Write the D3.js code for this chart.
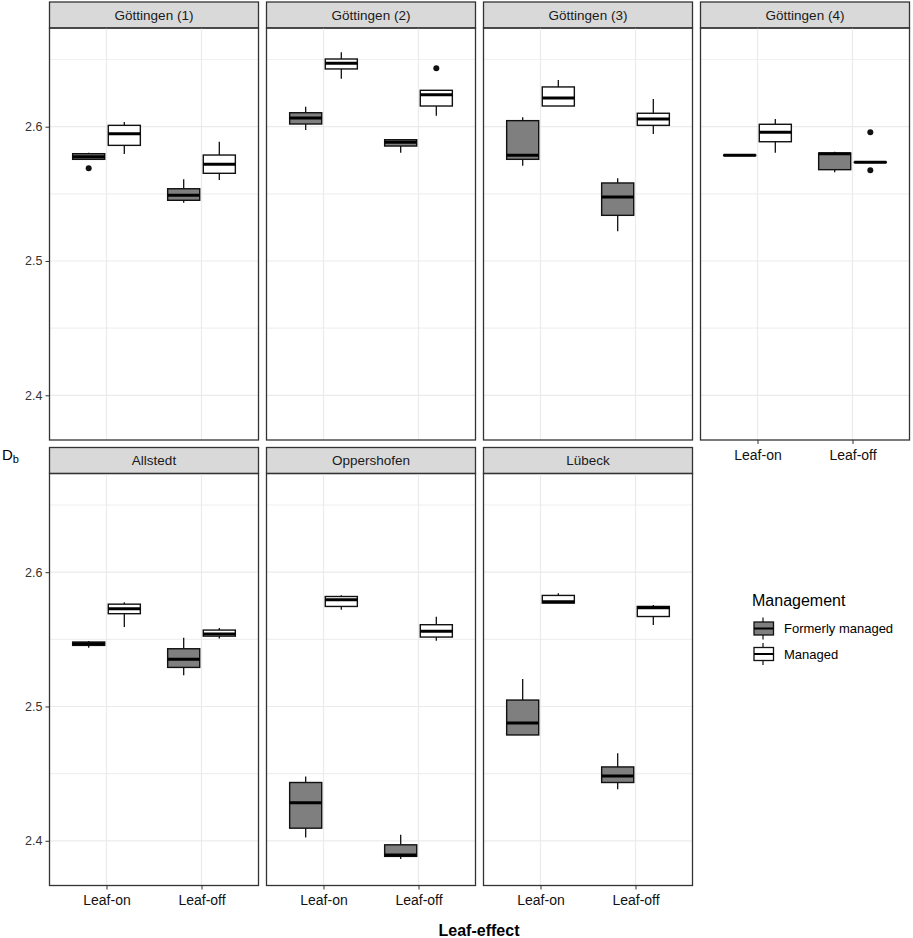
<!DOCTYPE html>
<html>
<head>
<meta charset="utf-8">
<script src="https://cdn.jsdelivr.net/npm/d3@7"></script>
<style>
body { margin: 0; background: #fff; }
text { font-family: Arial, "Liberation Sans", sans-serif; }
</style>
</head>
<body>
<svg width="913" height="938"></svg>
<script>
// facets, categories, groups
var sites = ["Göttingen (1)", "Göttingen (2)", "Göttingen (3)", "Göttingen (4)", "Allstedt", "Oppershofen", "Lübeck"];
var effects = ["Leaf-on", "Leaf-off"];
var groups = ["Formerly managed", "Managed"];

// [lower whisker, q1, median, q3, upper whisker]
// order: on/formerly, on/managed, off/formerly, off/managed
var gottingen1 = [
  [2.5757, 2.5757, 2.5777, 2.5799, 2.5806],
  [2.5797, 2.5861, 2.5948, 2.6010, 2.6035],
  [2.5434, 2.5452, 2.5489, 2.5538, 2.5608],
  [2.5603, 2.5653, 2.5720, 2.5789, 2.5888]
];
var gottingen2 = [
  [2.5975, 2.6020, 2.6065, 2.6104, 2.6149],
  [2.6357, 2.6430, 2.6472, 2.6504, 2.6554],
  [2.5806, 2.5856, 2.5884, 2.5903, 2.5903],
  [2.6082, 2.6154, 2.6238, 2.6271, 2.6271]
];
var gottingen3 = [
  [2.5710, 2.5757, 2.5787, 2.6045, 2.6070],
  [2.6154, 2.6154, 2.6214, 2.6296, 2.6348],
  [2.5222, 2.5340, 2.5477, 2.5581, 2.5616],
  [2.5946, 2.6010, 2.6057, 2.6100, 2.6206]
];
var gottingen4 = [
  [2.5783, 2.5785, 2.5787, 2.5789, 2.5791],
  [2.5806, 2.5888, 2.5958, 2.6018, 2.6057],
  [2.5660, 2.5680, 2.5799, 2.5804, 2.5814],
  [2.5734, 2.5734, 2.5735, 2.5736, 2.5736]
];
var allstedt = [
  [2.5438, 2.5455, 2.5468, 2.5480, 2.5487],
  [2.5591, 2.5691, 2.5728, 2.5762, 2.5777],
  [2.5232, 2.5291, 2.5351, 2.5430, 2.5512],
  [2.5507, 2.5524, 2.5539, 2.5569, 2.5584]
];
var oppershofen = [
  [2.4025, 2.4094, 2.4283, 2.4434, 2.4479],
  [2.5720, 2.5745, 2.5795, 2.5819, 2.5829],
  [2.3864, 2.3884, 2.3894, 2.3970, 2.4045],
  [2.5490, 2.5517, 2.5561, 2.5609, 2.5668]
];
var lubeck = [
  [2.4788, 2.4788, 2.4877, 2.5048, 2.5204],
  [2.5770, 2.5770, 2.5780, 2.5827, 2.5844],
  [2.4384, 2.4434, 2.4483, 2.4550, 2.4652],
  [2.5606, 2.5670, 2.5735, 2.5745, 2.5755]
];

// outliers: [site index, effect index, group index, value]
var outliers = [
  [0, 0, 0, 2.569],
  [1, 1, 1, 2.6435],
  [3, 1, 1, 2.5958],
  [3, 1, 1, 2.5675]
];

var yTicks = [2.4, 2.5, 2.6];
var yMinor = [2.45, 2.55, 2.65];

var siteStats = [gottingen1, gottingen2, gottingen3, gottingen4, allstedt, oppershofen, lubeck];
var fills = ["#7f7f7f", "#ffffff"];

var svg = d3.select("svg");

var panelW = 209, plotH = 412, stripH = 26;
var colX = function(c) { return 49.5 + c * 217; };
var rowTop = [2, 447.5];

var y = d3.scaleLinear().domain([2.36671, 2.67349]).range([plotH, 0]);
var x = d3.scalePoint().domain(effects).range([0, panelW]).padding(0.6);
var step = x.step();
var boxW = 0.3375 * step;
var dodge = [-0.1875 * step, 0.1875 * step];

var boxes = [];
siteStats.forEach(function(st, s) {
  st.forEach(function(v, k) {
    boxes.push({site: s, effect: effects[Math.floor(k / 2)], group: k % 2,
      lo: v[0], q1: v[1], med: v[2], q3: v[3], hi: v[4]});
  });
});

sites.forEach(function(name, i) {
  var row = Math.floor(i / 4), col = i % 4;
  var px = colX(col), py = rowTop[row] + stripH;

  // strip
  svg.append("rect")
    .attr("x", px).attr("y", rowTop[row])
    .attr("width", panelW).attr("height", stripH)
    .attr("fill", "#d9d9d9").attr("stroke", "#333").attr("stroke-width", 1.3);
  svg.append("text")
    .attr("x", px + panelW / 2).attr("y", rowTop[row] + stripH / 2 + 4.5)
    .attr("text-anchor", "middle").attr("font-size", 13.5).attr("fill", "#1a1a1a")
    .text(name);

  var g = svg.append("g").attr("transform", "translate(" + px + "," + py + ")");

  g.selectAll(".minor").data(yMinor).enter().append("line")
    .attr("x1", 0).attr("x2", panelW)
    .attr("y1", function(d) { return y(d); }).attr("y2", function(d) { return y(d); })
    .attr("stroke", "#f0f0f0").attr("stroke-width", 1.1);
  g.selectAll(".major").data(yTicks).enter().append("line")
    .attr("x1", 0).attr("x2", panelW)
    .attr("y1", function(d) { return y(d); }).attr("y2", function(d) { return y(d); })
    .attr("stroke", "#ebebeb").attr("stroke-width", 1.2);
  g.selectAll(".vgrid").data(effects).enter().append("line")
    .attr("x1", function(d) { return x(d); }).attr("x2", function(d) { return x(d); })
    .attr("y1", 0).attr("y2", plotH)
    .attr("stroke", "#ebebeb").attr("stroke-width", 1.2);

  var b = g.selectAll(".box").data(boxes.filter(function(d) { return d.site === i; }))
    .enter().append("g")
    .attr("transform", function(d) { return "translate(" + (x(d.effect) + dodge[d.group]) + ",0)"; });

  b.append("line").attr("x1", 0).attr("x2", 0)
    .attr("y1", function(d) { return y(d.hi); }).attr("y2", function(d) { return y(d.q3); })
    .attr("stroke", "#111").attr("stroke-width", 1.3);
  b.append("line").attr("x1", 0).attr("x2", 0)
    .attr("y1", function(d) { return y(d.q1); }).attr("y2", function(d) { return y(d.lo); })
    .attr("stroke", "#111").attr("stroke-width", 1.3);
  b.append("rect")
    .attr("x", -boxW / 2).attr("width", boxW)
    .attr("y", function(d) { return y(d.q3); })
    .attr("height", function(d) { return y(d.q1) - y(d.q3); })
    .attr("fill", function(d) { return fills[d.group]; })
    .attr("stroke", "#111").attr("stroke-width", 1.4);
  b.append("line")
    .attr("x1", -boxW / 2).attr("x2", boxW / 2)
    .attr("y1", function(d) { return y(d.med); }).attr("y2", function(d) { return y(d.med); })
    .attr("stroke", "#000").attr("stroke-width", 3);

  g.selectAll(".out").data(outliers.filter(function(d) { return d[0] === i; }))
    .enter().append("circle")
    .attr("cx", function(d) { return x(effects[d[1]]) + dodge[d[2]]; })
    .attr("cy", function(d) { return y(d[3]); })
    .attr("r", 3).attr("fill", "#111");

  // panel border
  g.append("rect").attr("width", panelW).attr("height", plotH)
    .attr("fill", "none").attr("stroke", "#333").attr("stroke-width", 1.3);

  if (col === 0) {
    var ya = g.append("g").call(d3.axisLeft(y).tickValues(yTicks).tickSize(4).tickPadding(3).tickFormat(d3.format(".1f")));
    ya.select(".domain").remove();
    ya.selectAll("line").attr("stroke", "#333");
    ya.selectAll("text").attr("font-size", 12.5).attr("fill", "#333").attr("font-family", "Arial, 'Liberation Sans', sans-serif");
  }
  if (row === 1 || i === 3) {
    var xa = g.append("g").attr("transform", "translate(0," + plotH + ")")
      .call(d3.axisBottom(x).tickSize(4).tickPadding(6));
    xa.select(".domain").remove();
    xa.selectAll("line").attr("stroke", "#333");
    xa.selectAll("text").attr("font-size", 14).attr("fill", "#111").attr("font-family", "Arial, 'Liberation Sans', sans-serif");
  }
});

// axis titles
svg.append("text")
  .attr("x", 479).attr("y", 936)
  .attr("text-anchor", "middle").attr("font-size", 16).attr("font-weight", "bold").attr("fill", "#000")
  .text("Leaf-effect");

var dl = svg.append("text").attr("x", 2).attr("y", 460).attr("font-size", 15).attr("fill", "#000");
dl.append("tspan").text("D");
dl.append("tspan").attr("dy", 3).attr("font-size", 11).text("b");

// legend
var lg = svg.append("g").attr("transform", "translate(752,600)");
lg.append("text").attr("x", 0).attr("y", 6).attr("font-size", 16).attr("fill", "#000").text("Management");

var keys = lg.selectAll(".key").data(groups).enter().append("g")
  .attr("transform", function(d, i) { return "translate(0," + (28.5 + i * 25.5) + ")"; });
keys.append("line").attr("x1", 11).attr("x2", 11).attr("y1", -11).attr("y2", 11)
  .attr("stroke", "#111").attr("stroke-width", 1.2);
keys.append("rect").attr("x", 2).attr("y", -6.5).attr("width", 19.5).attr("height", 13)
  .attr("fill", function(d, i) { return fills[i]; })
  .attr("stroke", "#111").attr("stroke-width", 1.3);
keys.append("line").attr("x1", 2).attr("x2", 21.5).attr("y1", 0).attr("y2", 0)
  .attr("stroke", "#000").attr("stroke-width", 2);
keys.append("text").attr("x", 32).attr("y", 4.5).attr("font-size", 13).attr("fill", "#000")
  .text(function(d) { return d; });
</script>
</body>
</html>
